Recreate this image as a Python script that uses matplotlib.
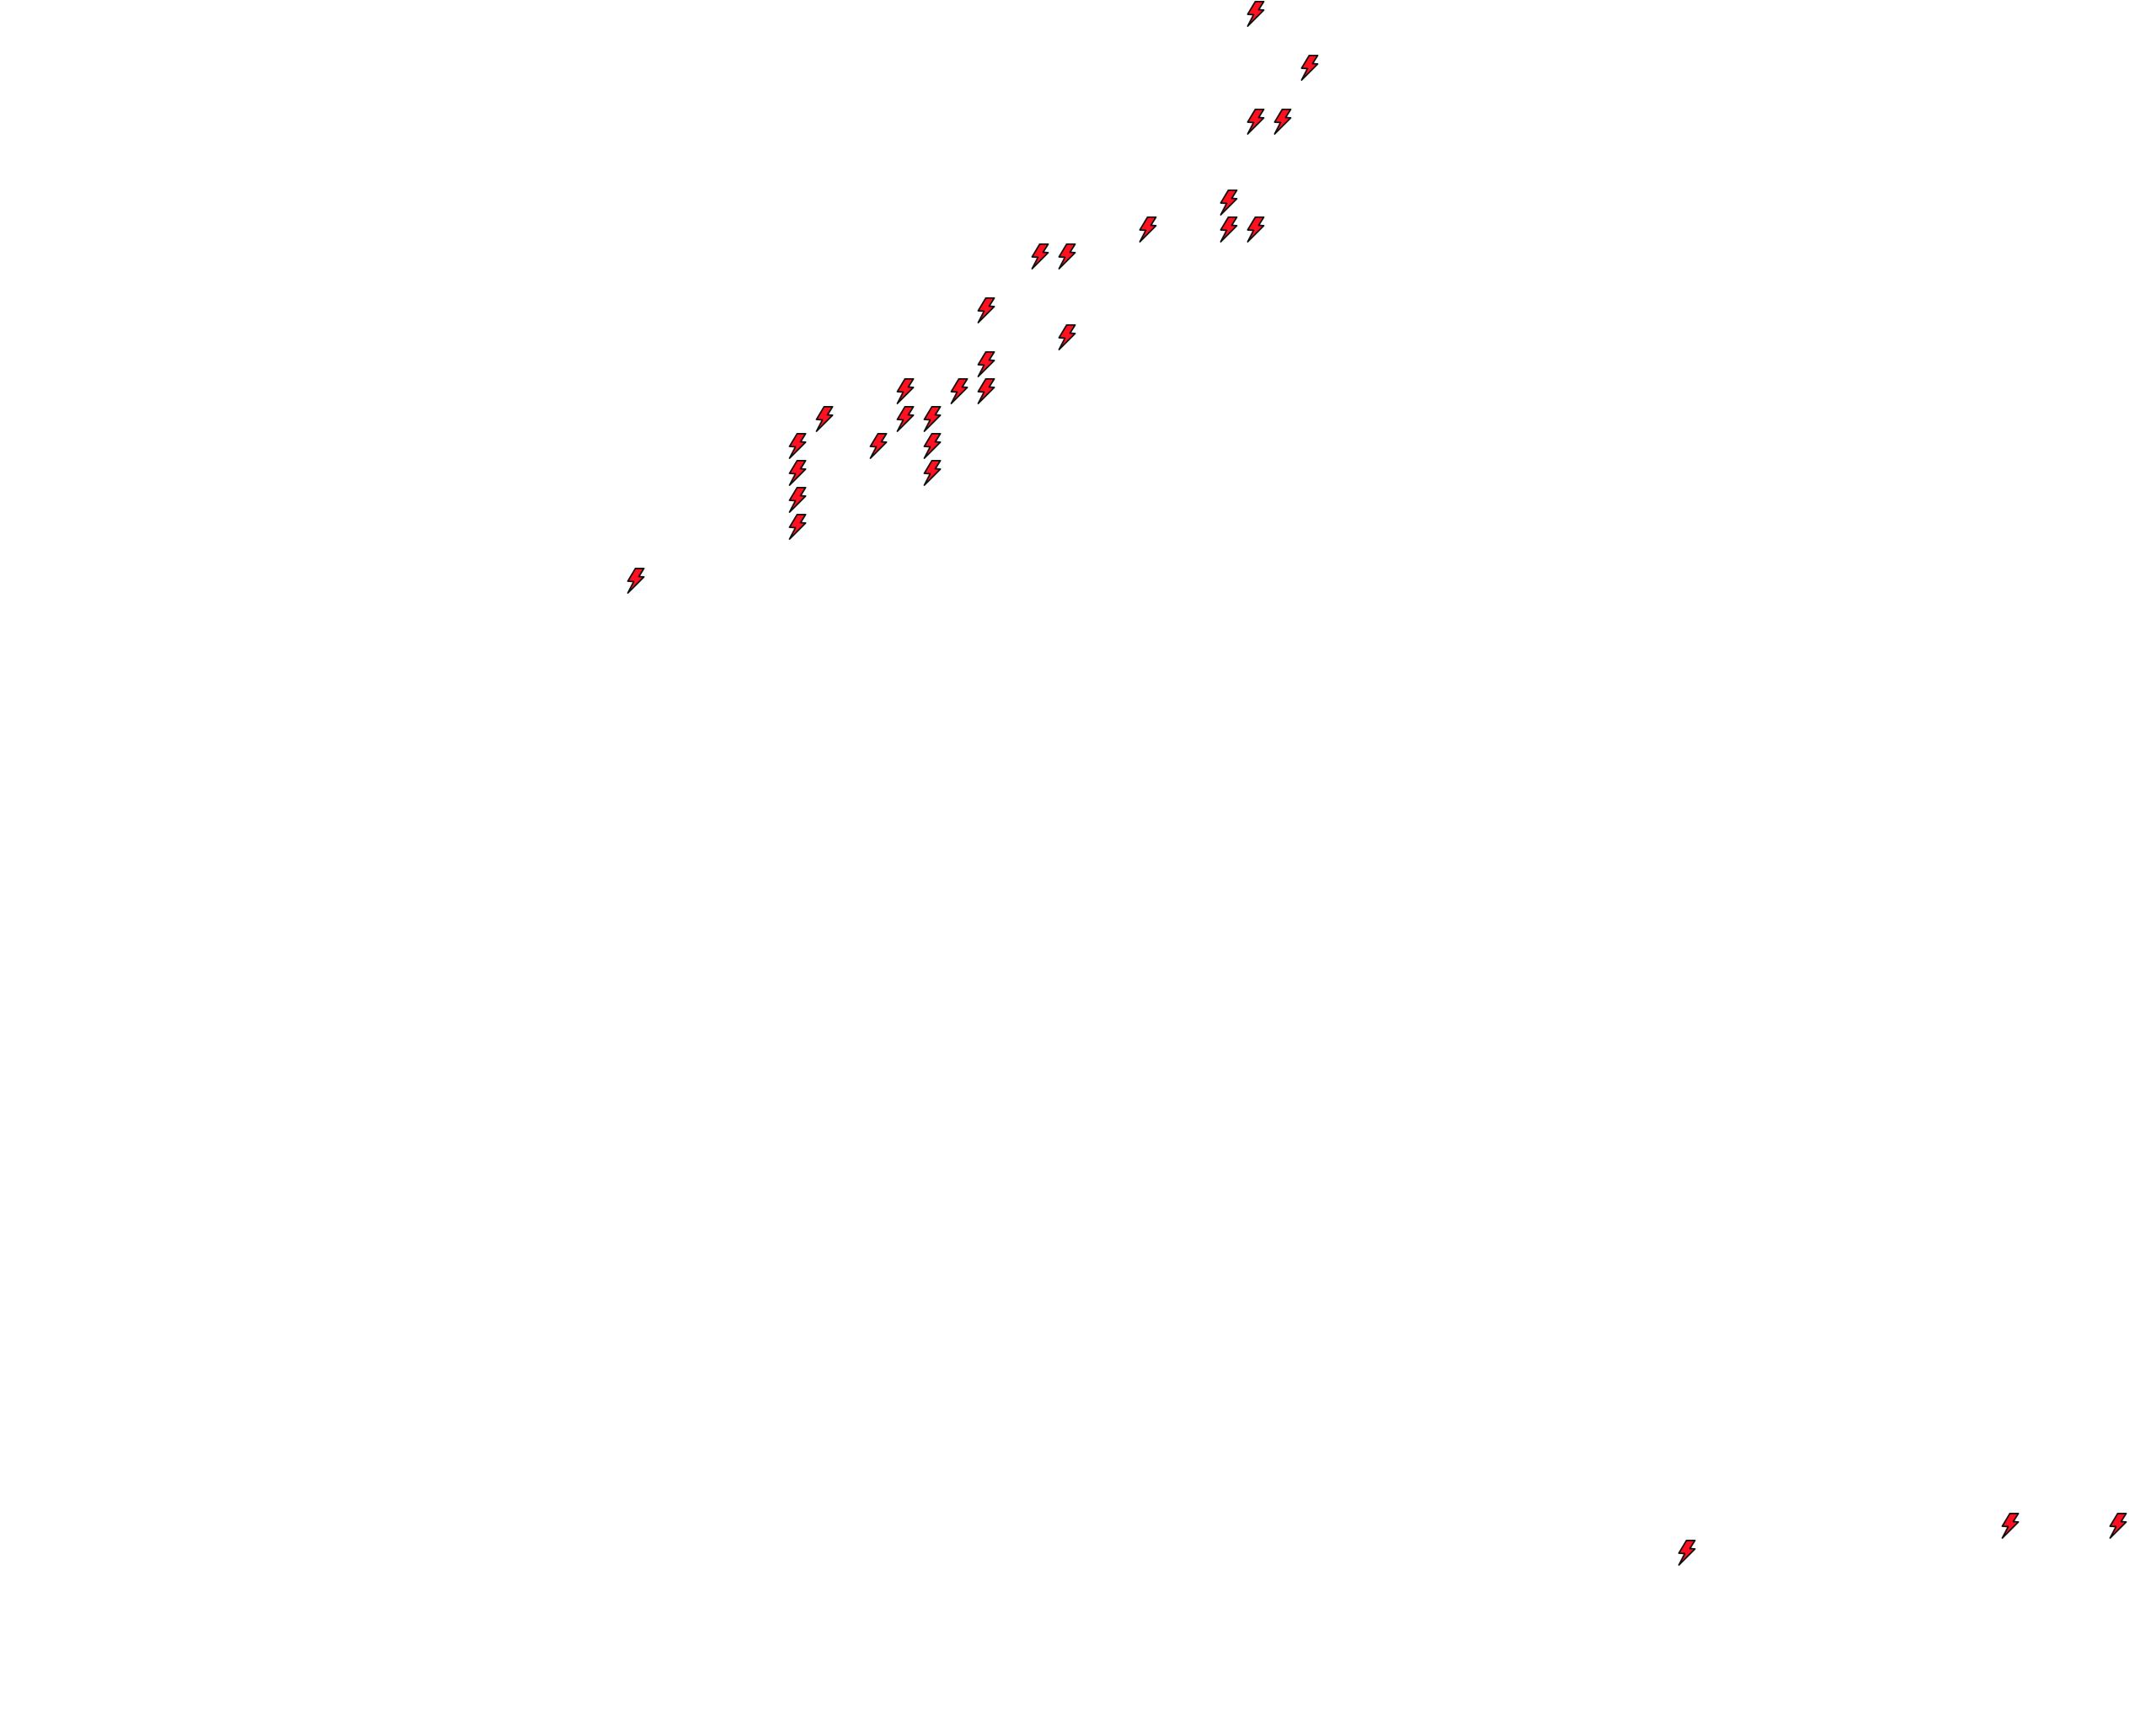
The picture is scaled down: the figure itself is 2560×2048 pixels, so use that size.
import numpy as np
import matplotlib
matplotlib.use("Agg")
import matplotlib.pyplot as plt
from matplotlib.path import Path

# grid values (one grid step = 32 px)
x_values = [17, 19, 17, 18, 16, 13, 16, 17, 9, 10, 7, 10, 7, 4, 6, 7, 1, 4, 5,
            0, 3, 5, 0, 5, 0, 0, -6, 33, 45, 49]
y_values = [0, 2, 4, 4, 7, 8, 8, 8, 9, 9, 11, 12, 13, 14, 14, 14, 15, 15, 15,
            16, 16, 16, 17, 17, 18, 19, 21, 57, 56, 56]

fig = plt.figure(figsize=(25.6, 20.48), dpi=100, facecolor="white")
ax = fig.add_axes([0, 0, 1, 1])
ax.set_xlim(-944 / 32, (2560 - 944) / 32)
ax.set_ylim((2048 - 15.5) / 32.07, -15.5 / 32.07)
ax.axis("off")

bolt = Path([(2, 14.5), (12, 14.5), (6, 5), (12, 4.5), (-7, -14.5), (0, -1), (-7, -0.5), (2, 14.5)], closed=True)
ax.plot(x_values, y_values, linestyle="none", marker=bolt, markersize=21,
        markerfacecolor="#ff0f1f", markeredgecolor="#111111", markeredgewidth=1.3)
fig.savefig("out.png", dpi=100)
